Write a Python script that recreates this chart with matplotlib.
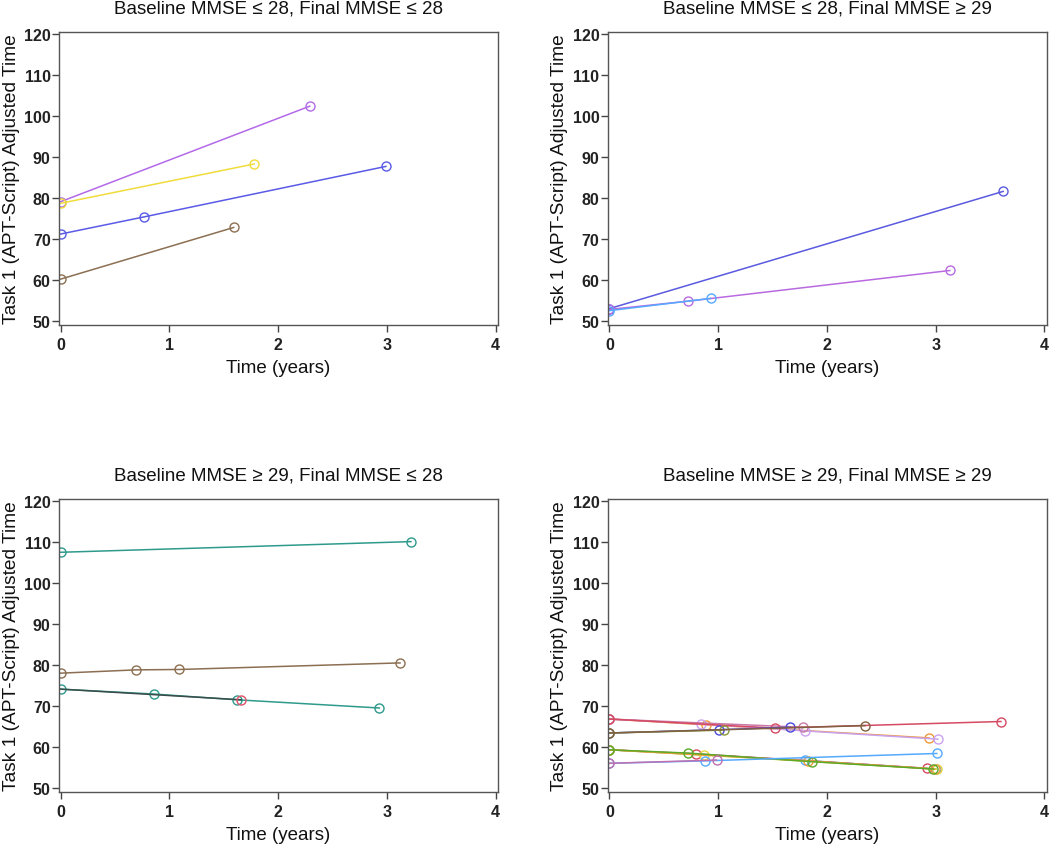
import numpy as np
import matplotlib
matplotlib.use("Agg")
import matplotlib.pyplot as plt

plt.rcParams['font.family'] = ['Liberation Sans', 'DejaVu Sans']

titles = ["Baseline MMSE \u2264 28, Final MMSE \u2264 28",
          "Baseline MMSE \u2264 28, Final MMSE \u2265 29",
          "Baseline MMSE \u2265 29, Final MMSE \u2264 28",
          "Baseline MMSE \u2265 29, Final MMSE \u2265 29"]

# each subject: (times, values, line colour[, marker colour])
# panel 1: baseline <=28, final <=28
p1 = [
    ([0, 2.29], [79.1, 102.4], "#b36ae8"),
    ([0, 1.78], [78.7, 88.3], "#f0dc3c"),
    ([0, 0.77, 2.99], [71.2, 75.4, 87.7], "#5a5ae6"),
    ([0, 1.59], [60.2, 72.8], "#8c6f52"),
]
# panel 2: baseline <=28, final >=29
p2 = [
    ([0, 3.62], [53.0, 81.6], "#5a5ae0"),
    ([0, 0.72, 3.13], [52.8, 54.8, 62.3], "#b96ae0"),
    ([0, 0.93], [52.5, 55.5], "#55aaff"),
]
# panel 3: baseline >=29, final <=28
p3 = [
    ([0, 3.22], [107.5, 110.1], "#2e9a8c"),
    ([0, 0.69, 1.09, 3.12], [78.0, 78.8, 78.9, 80.5], "#8c6f52"),
    ([0, 0.86, 1.62, 2.93], [74.1, 72.9, 71.5, 69.5], "#2e9a8c"),
    ([0, 1.66], [74.1, 71.5], "#3c4c4a", "#e0506a"),
]
# panel 4: baseline >=29, final >=29
p4 = [
    ([0, 0.89, 2.94], [66.8, 65.4, 62.2], "#ee9a3a"),
    ([0, 0.84, 1.80, 3.02], [66.8, 65.6, 63.9, 61.9], "#c9a2f0"),
    ([0, 1.78], [66.8, 64.8], "#c87aa8"),
    ([0, 1.52, 3.60], [66.8, 64.6, 66.2], "#d64a62"),
    ([0, 1.01, 1.66], [63.4, 64.2, 64.8], "#4a48dc"),
    ([0, 1.05], [63.4, 64.1], "#8a9a3a"),
    ([0, 2.35], [63.4, 65.2], "#806040"),
    ([0, 1.80, 3.00], [59.3, 56.7, 54.6], "#55aaff"),
    ([0, 0.80, 2.92], [59.3, 58.3, 54.8], "#d64a62"),
    ([0, 0.87, 3.01], [59.3, 58.0, 54.6], "#e8d840"),
    ([0, 1.83, 2.99], [59.3, 56.6, 54.6], "#ee9a3a"),
    ([0, 0.72, 1.86, 2.98], [59.3, 58.5, 56.4, 54.6], "#5aaa2a"),
    ([0, 0.88, 3.01], [56.0, 56.6, 58.4], "#55aaff"),
    ([0, 0.985], [56.0, 56.8], "#c070b0"),
]
panels = [p1, p2, p3, p4]

fig = plt.figure(figsize=(10.5, 8.45), dpi=100)
w = 439 / 1050
h = 293 / 845
pos = [(59 / 1050, 1 - 326 / 845), (607.7 / 1050, 1 - 326 / 845),
       (59 / 1050, 1 - 793 / 845), (607.7 / 1050, 1 - 793 / 845)]

for i in range(4):
    ax = fig.add_axes([pos[i][0], pos[i][1], w, h])
    for s in panels[i]:
        t, v, c = s[0], s[1], s[2]
        if len(s) > 3:
            # dark line on top, only its last visit marked
            ax.plot(t, v, color=c, lw=1.1, marker="o", ms=6.5, mfc="none",
                    mec=s[3], mew=1.0, markevery=[len(t) - 1])
        else:
            ax.plot(t, v, color=c, lw=1.1, marker="o", ms=6.5,
                    mfc="none", mec=c, mew=1.0)
    ax.set_xlim(-0.016, 4.021)
    ax.set_ylim(49.0, 120.5)
    ax.set_xticks([0, 1, 2, 3, 4])
    ax.set_yticks(np.arange(50, 121, 10))
    ax.tick_params(direction="out", length=5, width=1, color="#444444",
                   labelsize=11.5)
    ax.tick_params(axis="y", pad=1)
    ax.tick_params(axis="x", pad=4)
    for lab in ax.get_xticklabels() + ax.get_yticklabels():
        lab.set_fontweight("bold")
        lab.set_color("#222222")
    for sp in ax.spines.values():
        sp.set_color("#555555")
        sp.set_linewidth(1.0)
    ax.set_title(titles[i], fontsize=13.5, pad=14, color="#111111")
    ax.set_xlabel("Time (years)", fontsize=13.5, labelpad=5, color="#111111")
    ax.set_ylabel("Task 1 (APT-Script) Adjusted Time", fontsize=13.8,
                  labelpad=3, color="#111111")

plt.savefig("out.png", dpi=100)
